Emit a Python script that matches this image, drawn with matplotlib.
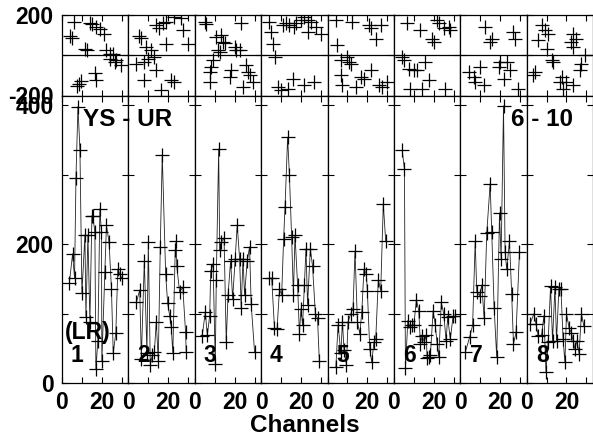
import matplotlib
matplotlib.use("Agg")
import matplotlib.pyplot as plt

plt.rcParams['font.family'] = ['Liberation Sans', 'DejaVu Sans']
plt.rcParams['font.weight'] = 'bold'

# top row: scatter per panel (x = channel, y = value)
top_x = [
    [6, 4, 5, 14, 15.3, 17.3, 19, 21, 11.5, 12.7, 22, 24, 25.7, 24, 27, 26.5, 29.8, 16.5, 17.3, 9.3, 8.3, 7.3],
    [5.2, 6.3, 8.8, 11.3, 13.8, 15.5, 17.2, 18.8, 23, 26.3, 27.2, 29.7, 18.8, 3.8, 8, 9.7, 13, 13.8, 8, 16.3, 21.3, 23],
    [5, 5.8, 23.3, 10.8, 13.3, 14.2, 15, 11.7, 12.5, 20, 20.8, 22.5, 9.2, 8.3, 7.5, 18.3, 17.5, 7.5, 25.8, 26.7, 27.5, 29.2, 24.2],
    [4.2, 5, 5.8, 7.2, 10.8, 12.5, 14.2, 16.7, 17.5, 20, 21.7, 23.3, 25, 27.5, 30, 23.3, 8.3, 10, 13.3, 15.8, 21.7, 26.7],
    [4.2, 12.5, 20.8, 21.7, 24.2, 26.7, 5, 6.7, 10, 10.8, 11.7, 6.7, 7.5, 14.2, 16.7, 18.3, 21.7, 25.8, 27.5, 30],
    [6.7, 13.3, 21.7, 22.5, 25, 27.5, 28.3, 19.2, 20, 4.2, 5, 7.5, 10, 11.7, 15.8, 17.5, 14.2, 8.3, 25.8],
    [12.5, 15.8, 15, 26.7, 27.5, 4.2, 6.7, 7.5, 10, 11.7, 19.2, 20, 21.7, 23.3, 25, 29.2],
    [7.5, 9.2, 10.8, 5.8, 10, 23.3, 25, 22.5, 23.3, 29.2, 27.5, 26.7, 13.3, 12.5, 4.2, 3.3, 17.5, 16.7, 20, 18.3, 23.3],
]
top_y = [
    [167, 97, 88, 158, 155, 142, 128, 108, 33, 25, 25, 8, 5, -17, -22, -33, -50, -88, -125, -130, -142, -155],
    [95, 88, 42, 25, 150, 133, 158, 167, 192, 183, 125, 58, 58, -42, -33, -17, -8, -75, -125, -172, -125, -133],
    [167, 155, 158, 92, 100, 67, 62, 25, 17, 42, 25, 25, -25, -58, -83, -75, -108, -133, -50, -83, -100, -133, -158],
    [167, 117, 58, -8, 150, 158, 150, 142, 158, 175, 192, 175, 167, 142, 108, 117, -158, -175, -167, -117, -150, -133],
    [175, 167, 150, 133, 83, 150, 50, -25, -8, -33, -42, -100, -150, -158, -108, -117, -75, -150, -158, -133],
    [158, 125, 175, 158, 133, 142, 125, 83, 67, -8, -25, -67, -75, -75, -33, -125, -167, -167, -167],
    [142, 83, 67, 117, 83, -83, -108, -133, -58, -150, -58, -33, -117, -33, -75, -167],
    [150, 125, 108, 75, 33, 108, 83, 67, 42, 0, -42, -75, -33, -25, -83, -100, -108, -133, -133, -167, -150],
]

# bottom row: line per panel
bot_x = [
    [3.7, 5.3, 6.3, 7, 8, 9, 10, 11.5, 12, 13, 14, 15, 15.5, 16.5, 17, 18, 19, 19.8, 20, 21.5, 22.3, 23.6, 24.8, 25.7, 27, 28, 29, 30],
    [4, 5.7, 6.5, 8, 9.3, 10, 11, 12, 13, 14, 15, 16, 17, 18.7, 19.7, 20.7, 21.5, 22.3, 23.5, 24, 24.3, 25.7, 27.3, 28.7, 29],
    [3.7, 5.3, 6.3, 7.5, 8, 9.2, 10.3, 10.8, 12, 12.5, 13.3, 14.7, 15.8, 16.7, 18, 19, 20.3, 21.3, 22.5, 23.3, 24.2, 25, 26.3, 27.5, 28.3, 30],
    [4.2, 5.3, 6.7, 8, 9.2, 10.3, 11.3, 12, 13.3, 14.2, 15.3, 16.2, 17, 18.3, 19.2, 20, 20.8, 21.7, 22.5, 23.3, 24.7, 25.8, 27.2, 28.3, 29.2],
    [4.2, 5.3, 6.7, 7.5, 8.3, 9.5, 10.3, 11.7, 12.8, 13.8, 15, 16.2, 17.2, 18.3, 19.5, 20, 21.2, 22.2, 23.3, 24.2, 25.5, 26.7, 28, 29.2],
    [4.2, 5.3, 5.8, 7, 8, 9.2, 10, 11.3, 12.5, 13.3, 14.2, 15.3, 16.2, 16.7, 17.5, 18.3, 19.7, 20.8, 21.7, 22.5, 23.8, 25, 26.2, 27, 28.3, 29.7, 30.8],
    [2.5, 4.7, 6.2, 7.5, 8.3, 9.7, 10.8, 12, 13.3, 15, 15.8, 17, 18.3, 19.7, 20.5, 21.7, 22.5, 23.3, 24.7, 25.8, 26.7, 28, 29.7],
    [1.7, 3.7, 4.7, 5.8, 7.5, 8.7, 9.7, 10.8, 12, 13, 14.2, 15, 16.2, 17.2, 18.3, 19.2, 20, 21.3, 22.5, 23.3, 24.2, 25.3, 26.3, 27.5, 28.7],
]
bot_y = [
    [144, 186, 151, 295, 398, 336, 129, 213, 95, 213, 88, 241, 240, 217, 20, 61, 251, 217, 31, 160, 227, 203, 136, 43, 72, 164, 157, 151],
    [116, 134, 35, 176, 43, 203, 26, 40, 44, 88, 32, 196, 329, 157, 115, 97, 80, 43, 191, 204, 168, 131, 138, 73, 45],
    [67, 102, 69, 97, 161, 172, 28, 149, 337, 191, 203, 209, 59, 127, 176, 121, 179, 228, 179, 108, 179, 127, 175, 196, 114, 45],
    [151, 151, 79, 78, 135, 127, 208, 254, 354, 299, 210, 127, 213, 141, 71, 107, 83, 141, 193, 113, 193, 168, 100, 93, 31],
    [23, 84, 43, 88, 47, 26, 88, 100, 107, 190, 88, 71, 102, 164, 157, 132, 49, 30, 59, 63, 149, 133, 258, 204],
    [335, 308, 21, 90, 80, 84, 83, 120, 104, 56, 68, 59, 69, 36, 37, 40, 104, 83, 56, 37, 116, 100, 61, 95, 63, 96, 96],
    [44, 66, 83, 204, 131, 126, 141, 93, 216, 287, 217, 108, 37, 245, 179, 399, 188, 164, 204, 128, 56, 73, 188],
    [85, 100, 85, 68, 69, 97, 16, 59, 139, 61, 138, 61, 136, 136, 63, 30, 100, 79, 72, 61, 49, 61, 42, 100, 82],
]

panel_labels = ['1', '2', '3', '4', '5', '6', '7', '8']

fig = plt.figure(figsize=(5.93, 4.37), dpi=100)
left, right = 62 / 593, 1.0
w = (right - left) / 8
top_top, mid, bot = 1 - 15 / 437, 1 - 95.5 / 437, 1 - 383 / 437

fs = 16.5
for i in range(8):
    x0 = left + i * w
    at = fig.add_axes([x0, mid, w, top_top - mid])
    ab = fig.add_axes([x0, bot, w, mid - bot])

    at.plot(top_x[i], top_y[i], ls='none', marker='+', ms=10, mew=0.9, color='k')
    at.axhline(0, color='k', lw=0.9)
    at.set_ylim(-200, 200)

    ab.plot(bot_x[i], bot_y[i], color='#222222', lw=0.6, marker='+', ms=10,
            mew=0.9, mec='k')
    ab.set_ylim(0, 414)

    for ax in (at, ab):
        ax.set_xlim(0, 33.3)
        ax.set_xticks([0, 10, 20, 30])
        ax.tick_params(direction='in', top=True, right=True, length=4,
                       width=0.8, labelsize=fs, pad=6)
        for s in ax.spines.values():
            s.set_linewidth(0.9)
    at.set_yticks([-200, 0, 200])
    at.set_xticklabels([])
    ab.set_yticks([0, 100, 200, 300, 400])
    ab.set_xticklabels(['0', '', '20', ''])
    if i == 0:
        at.set_yticklabels(['-200', '', '200'])
        ab.set_yticklabels(['0', '', '200', '', '400'])
    else:
        at.set_yticklabels([])
        ab.set_yticklabels([])
    for lab in ab.get_xticklabels() + ab.get_yticklabels() + at.get_yticklabels():
        lab.set_fontweight('bold')

    fig.text((77 + i * 66.5) / 593, 1 - 355 / 437, panel_labels[i],
             fontsize=fs, fontweight='bold', ha='center', va='center')

fig.text(128 / 593, 1 - 120 / 437, 'YS - UR', fontsize=17.5, fontweight='bold',
         ha='center', va='center')
fig.text(542 / 593, 1 - 120 / 437, '6 - 10', fontsize=17.5, fontweight='bold',
         ha='center', va='center')
fig.text(88 / 593, 1 - 332 / 437, '(LR)', fontsize=fs, fontweight='bold',
         ha='center', va='center')
fig.text(305 / 593, 1 - 425 / 437, 'Channels', fontsize=17.5, fontweight='bold',
         ha='center', va='center')

fig.savefig('out.png', dpi=100)
